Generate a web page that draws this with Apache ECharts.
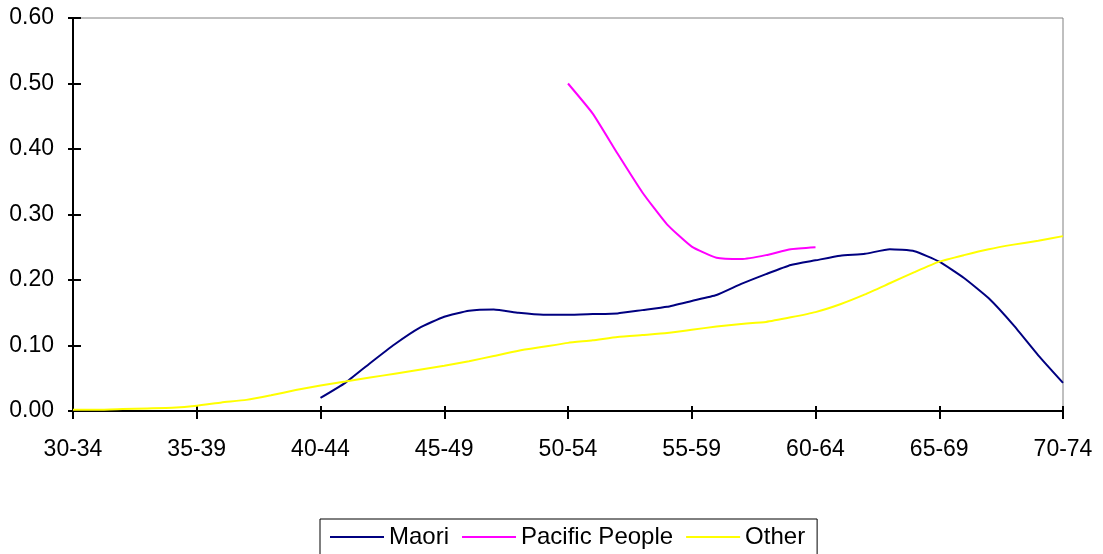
<!DOCTYPE html>
<html>
<head>
<meta charset="utf-8">
<script src="https://cdn.jsdelivr.net/npm/echarts@6/dist/echarts.min.js"></script>
<style>
html,body{margin:0;padding:0;background:#fff;}
#chart{width:1103px;height:554px;}
</style>
</head>
<body>
<div id="chart"></div>
<script>
// Tick labels (age groups) on the x axis
var ageGroups = ['30-34','35-39','40-44','45-49','50-54','55-59','60-64','65-69','70-74'];
// Fine steps (single years from start of first group)
var years = [30,31,32,33,34,35,36,37,38,39,40,41,42,43,44,45,46,47,48,49,50,51,52,53,54,55,56,57,58,59,60,61,62,63,64,65,66,67,68,69,70];

var maori = [null,null,null,null,null,null,null,null,null,null,
  0.020,0.043,0.073,0.102,0.127,0.144,0.153,0.155,0.150,0.147,
  0.147,0.148,0.149,0.154,0.159,0.168,0.177,0.194,0.209,0.223,
  0.230,0.237,0.240,0.247,0.244,0.228,0.203,0.172,0.131,0.085,0.043];

var pacific = [null,null,null,null,null,null,null,null,null,null,
  null,null,null,null,null,null,null,null,null,null,
  0.500,0.454,0.393,0.334,0.285,0.251,0.234,0.232,0.238,0.247,
  0.250,null,null,null,null,null,null,null,null,null,null];

var other = [0.002,0.002,0.003,0.004,0.005,0.008,0.013,0.017,0.024,0.032,
  0.039,0.045,0.051,0.057,0.063,0.069,0.076,0.084,0.092,0.098,
  0.104,0.108,0.113,0.116,0.119,0.124,0.129,0.133,0.136,0.143,
  0.151,0.163,0.178,0.195,0.212,0.228,0.238,0.247,0.254,0.260,0.267];

var yTicks = {min: 0, max: 0.6, interval: 0.1};

var chart = echarts.init(document.getElementById('chart'), null, {renderer: 'canvas'});
var font = 'Liberation Sans, Arial, sans-serif';
var cats = years.map(function(y){ return String(y); });
function isMajor(i){ return i % 5 === 0; }

chart.setOption({
  animation: false,
  backgroundColor: '#ffffff',
  grid: {left: 73, right: 40, top: 18, bottom: 143, show: true, borderColor: '#808080', borderWidth: 1, backgroundColor: 'transparent'},
  legend: {
    top: 519,
    left: 320,
    orient: 'horizontal',
    data: ['Maori','Pacific People','Other'],
    itemWidth: 54,
    itemHeight: 18,
    itemGap: 12,
    padding: [6, 12, 6, 9],
    borderColor: '#000000',
    borderWidth: 1,
    itemStyle: {opacity: 0},
    textStyle: {fontFamily: font, fontSize: 24, color: '#000000'}
  },
  xAxis: [{
    type: 'category',
    position: 'bottom',
    data: cats,
    boundaryGap: false,
    axisLine: {show: true, lineStyle: {color: '#000000', width: 2}},
    axisTick: {show: true, inside: false, length: 8, interval: function(i){ return isMajor(i); }, lineStyle: {color: '#000000', width: 2}},
    axisLabel: {interval: function(i){ return isMajor(i); }, formatter: function(v, i){ return isMajor(i) ? ageGroups[i/5] : ''; }, margin: 27, fontFamily: font, fontSize: 23, color: '#000000'},
    splitLine: {show: false}
  }, {
    type: 'category',
    position: 'bottom',
    data: cats,
    boundaryGap: false,
    axisLine: {show: false},
    axisTick: {show: true, inside: true, length: 5, interval: function(i){ return isMajor(i); }, lineStyle: {color: '#000000', width: 2}},
    axisLabel: {show: false},
    splitLine: {show: false}
  }],
  yAxis: [{
    type: 'value',
    position: 'left',
    min: yTicks.min, max: yTicks.max, interval: yTicks.interval,
    axisLine: {show: true, lineStyle: {color: '#000000', width: 2}},
    axisTick: {show: true, inside: false, length: 5, lineStyle: {color: '#000000', width: 2}},
    axisLabel: {formatter: function(v){ return v.toFixed(2); }, margin: 19, fontFamily: font, fontSize: 23, color: '#000000'},
    splitLine: {show: false}
  }, {
    type: 'value',
    position: 'left',
    min: yTicks.min, max: yTicks.max, interval: yTicks.interval,
    axisLine: {show: false},
    axisTick: {show: true, inside: true, length: 8, lineStyle: {color: '#000000', width: 2}},
    axisLabel: {show: false},
    splitLine: {show: false}
  }],
  series: [{
    name: 'Maori', type: 'line', data: maori, xAxisIndex: 0, yAxisIndex: 0,
    symbol: 'none', smooth: 0.15, connectNulls: false,
    lineStyle: {color: '#000080', width: 2}, itemStyle: {color: '#000080'}
  }, {
    name: 'Pacific People', type: 'line', data: pacific, xAxisIndex: 0, yAxisIndex: 0,
    symbol: 'none', smooth: 0.15, connectNulls: false,
    lineStyle: {color: '#FF00FF', width: 2}, itemStyle: {color: '#FF00FF'}
  }, {
    name: 'Other', type: 'line', data: other, xAxisIndex: 0, yAxisIndex: 0,
    symbol: 'none', smooth: 0.15, connectNulls: false,
    lineStyle: {color: '#FFFF00', width: 2}, itemStyle: {color: '#FFFF00'}
  }]
});
</script>
</body>
</html>
